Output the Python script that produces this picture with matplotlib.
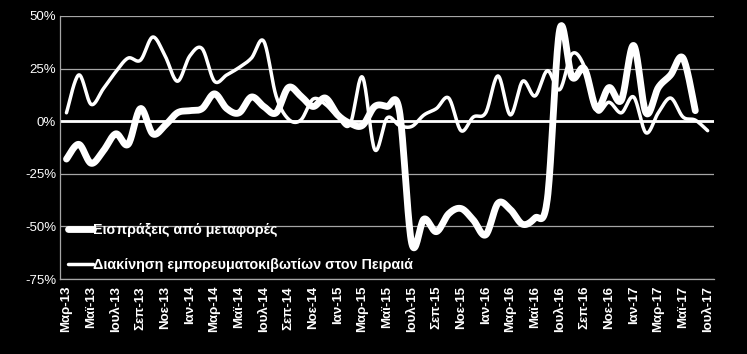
import numpy as np
import matplotlib
matplotlib.use("Agg")
import matplotlib.pyplot as plt

plt.rcParams['font.family'] = ['Liberation Sans', 'DejaVu Sans']

months = ["Μαρ-13", "Απρ-13", "Μαϊ-13", "Ιουν-13", "Ιουλ-13", "Αυγ-13", "Σεπ-13", "Οκτ-13", "Νοε-13", "Δεκ-13",
          "Ιαν-14", "Φεβ-14", "Μαρ-14", "Απρ-14", "Μαϊ-14", "Ιουν-14", "Ιουλ-14", "Αυγ-14", "Σεπ-14", "Οκτ-14", "Νοε-14", "Δεκ-14",
          "Ιαν-15", "Φεβ-15", "Μαρ-15", "Απρ-15", "Μαϊ-15", "Ιουν-15", "Ιουλ-15", "Αυγ-15", "Σεπ-15", "Οκτ-15", "Νοε-15", "Δεκ-15",
          "Ιαν-16", "Φεβ-16", "Μαρ-16", "Απρ-16", "Μαϊ-16", "Ιουν-16", "Ιουλ-16", "Αυγ-16", "Σεπ-16", "Οκτ-16", "Νοε-16", "Δεκ-16",
          "Ιαν-17", "Φεβ-17", "Μαρ-17", "Απρ-17", "Μαϊ-17", "Ιουν-17", "Ιουλ-17"]

receipts = [-18, -11, -20, -14, -6, -11, 6, -6, -2, 4,
            5, 6, 13, 6, 4, 11.5, 7, 4, 16, 12, 7, 11,
            3, -1, -2, 7, 7, 5, -58, -46.5, -52.5, -44, -41.5, -47,
            -54, -39, -42, -49, -46, -37, 43.5, 21, 25, 6, 16, 10,
            36, 4, 16, 22, 30, 5]

containers = [4, 22, 8, 15.5, 23.5, 30, 29, 40, 31, 19,
              31, 34.5, 19, 22, 25.5, 30, 38, 12, 1, 0.5, 10.5, 8,
              2, -1.5, 21, -13.5, 1.5, -2, -2.5, 3, 6, 11, -4.5, 2,
              4, 21.5, 3, 19, 12, 24, 15, 32, 26, 5, 9, 4,
              11.5, -5.5, 4, 11, 2, 0.5, -4.5]

label_receipts = "Εισπράξεις από μεταφορές"
label_containers = "Διακίνηση εμπορευματοκιβωτίων στον Πειραιά"

yticks = [-75, -50, -25, 0, 25, 50]


def smooth(xs, ys, n=20):
    """Excel-like smoothed line (Catmull-Rom Bezier) through the data points."""
    xs = np.asarray(xs, float)
    ys = np.asarray(ys, float)
    P = np.column_stack([xs, ys])
    out = []
    m = len(P)
    t = np.linspace(0, 1, n, endpoint=False)[:, None]
    for i in range(m - 1):
        p0 = P[i - 1] if i > 0 else P[i]
        p1 = P[i]
        p2 = P[i + 1]
        p3 = P[i + 2] if i + 2 < m else P[i + 1]
        b1 = p1 + (p2 - p0) / 6.0
        b2 = p2 - (p3 - p1) / 6.0
        seg = ((1 - t) ** 3) * p1 + 3 * ((1 - t) ** 2) * t * b1 + 3 * (1 - t) * t ** 2 * b2 + t ** 3 * p2
        out.append(seg)
    out.append(P[-1][None, :])
    c = np.vstack(out)
    return c[:, 0], c[:, 1]


fig = plt.figure(figsize=(7.47, 3.54), dpi=100, facecolor='black')
ax = fig.add_axes([60.3 / 747, 1 - 279 / 354, 653.5 / 747, 263 / 354])
ax.set_facecolor('black')

xr = np.arange(len(receipts))
xc = np.arange(len(containers))

ax.set_yticks(yticks)
ax.yaxis.grid(True, color='#a6a6a6', linewidth=0.9)
ax.set_axisbelow(True)
ax.axhline(0, color='white', linewidth=2, zorder=1.5)

sx, sy = smooth(xr, receipts)
ax.plot(sx, sy, color='white', linewidth=4.9, solid_capstyle='round',
        solid_joinstyle='round', label=label_receipts, zorder=3)
sx, sy = smooth(xc, containers)
ax.plot(sx, sy, color='white', linewidth=2.5, solid_capstyle='round',
        solid_joinstyle='round', label=label_containers, zorder=4)

ax.set_xlim(-0.5, len(months) - 0.5)
ax.set_ylim(-75, 50)

ax.set_xticks(np.arange(0, len(months), 2))
ax.set_xticklabels(months[::2], rotation=90, color='white', fontsize=9.5,
                   fontweight='bold')
ax.set_yticklabels([f"{v}%" for v in yticks], color='white', fontsize=9.5)
ax.tick_params(axis='both', length=0)
ax.tick_params(axis='y', pad=3)
ax.tick_params(axis='x', pad=5)

for s in ['top', 'right']:
    ax.spines[s].set_visible(False)
ax.spines['left'].set_color('#a6a6a6')
ax.spines['bottom'].set_color('#a6a6a6')
ax.spines['left'].set_linewidth(0.9)
ax.spines['bottom'].set_linewidth(0.9)

leg = ax.legend(loc='lower left', bbox_to_anchor=(0.008, 0.015), frameon=False,
                prop={'size': 10.3, 'weight': 'bold'}, handlelength=1.7,
                handletextpad=0.05, labelspacing=1.5, borderpad=0.2,
                borderaxespad=0)
for t in leg.get_texts():
    t.set_color('white')

fig.savefig('out.png', dpi=100, facecolor='black')
